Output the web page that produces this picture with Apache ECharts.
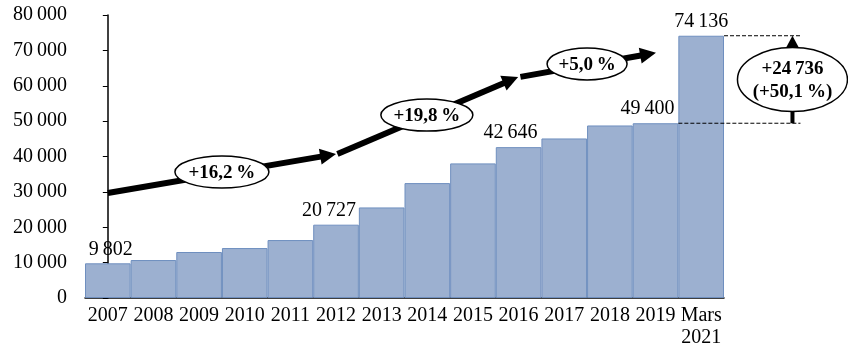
<!DOCTYPE html>
<html><head><meta charset="utf-8">
<script src="https://cdn.jsdelivr.net/npm/echarts@6/dist/echarts.min.js"></script>
<style>html,body{margin:0;padding:0;background:#fff}#c{width:848px;height:361px}</style>
</head><body><div id="c"></div>
<script>
const categories = ['2007','2008','2009','2010','2011','2012','2013','2014','2015','2016','2017','2018','2019','Mars\n2021'];
const values = [9802, 10730, 13000, 14120, 16380, 20727, 25600, 32480, 38050, 42646, 45100, 48770, 49400, 74136];
const labeledIdx = [0, 5, 9, 12, 13];
const yTicks = {min: 0, max: 80000, interval: 10000};
// trend arrows: [xStartIndex, yStart, xEndIndex, yEnd]
const trendArrows = [[0, 29700, 5, 40700], [5.03, 40700, 8.99, 62500], [9.04, 62500, 12.01, 69300]];
// trend labels: [xIndex, y, text]
const trendLabels = [[2.5, 35600, '+16,2\u2009%'], [6.99, 51700, '+19,8\u2009%'], [10.5, 66150, '+5,0\u2009%']];
// jump annotation: [xIndex, from, to]
const jumpNote = [[15, 49400, 74136]];
const jumpText = ['+24\u2009736', '(+50,1\u2009%)'];

// styling (not data)
const trendRx = [47, 46, 40];
const labelShift = {0: 3, 5: -7, 9: -8, 12: -8, 13: 0};
const FONT = 'Liberation Serif';
const FS = 20;
const fmt = v => String(v).replace(/\B(?=(\d{3})+(?!\d))/g, '\u2009');

const chart = echarts.init(document.getElementById('c'));
chart.setOption({
  animation: false,
  grid: {left: 85, right: 124, top: 15, bottom: 63},
  xAxis: [{
    type: 'category', data: categories,
    axisLine: {lineStyle: {color: '#000', width: 1.5}},
    axisTick: {show: false},
    axisLabel: {color: '#000', fontFamily: FONT, fontSize: FS, margin: 7, lineHeight: 22, interval: 0}
  }, {
    type: 'value', min: -0.5, max: 13.5, show: false
  }],
  yAxis: [{
    type: 'value', min: yTicks.min, max: yTicks.max, interval: yTicks.interval,
    splitLine: {show: false},
    axisLine: {show: true, lineStyle: {color: '#000', width: 1.5}},
    axisTick: {show: true, length: 5, lineStyle: {color: '#000'}},
    axisLabel: {color: '#000', fontFamily: FONT, fontSize: FS, margin: 18, formatter: fmt}
  }],
  series: [{
    type: 'bar', barCategoryGap: '0%',
    data: values.map((v, i) => ({
      value: v,
      label: {show: labeledIdx.includes(i), offset: [labelShift[i] || 0, 0]}
    })),
    itemStyle: {color: '#9cb0d0', borderColor: '#6f8fbf', borderWidth: 1},
    label: {position: 'top', distance: 4, color: '#000', fontFamily: FONT, fontSize: FS, formatter: p => fmt(p.value)}
  }, {
    type: 'custom', xAxisIndex: 1, yAxisIndex: 0, z: 5, clip: false,
    data: trendArrows,
    encode: {x: [0, 2], y: [1, 3]},
    renderItem: (params, api) => {
      const p1 = api.coord([api.value(0), api.value(1)]);
      const p2 = api.coord([api.value(2), api.value(3)]);
      const dx = p2[0] - p1[0], dy = p2[1] - p1[1];
      const len = Math.hypot(dx, dy), ux = dx / len, uy = dy / len;
      const hl = 16, hw = 8;
      const b = [p2[0] - ux * hl, p2[1] - uy * hl];
      return {type: 'group', children: [
        {type: 'line', shape: {x1: p1[0], y1: p1[1], x2: b[0] + ux * 2, y2: b[1] + uy * 2}, style: {stroke: '#000', lineWidth: 6}},
        {type: 'polygon', shape: {points: [p2, [b[0] - uy * hw, b[1] + ux * hw], [b[0] + uy * hw, b[1] - ux * hw]]}, style: {fill: '#000'}}
      ]};
    }
  }, {
    type: 'custom', xAxisIndex: 1, yAxisIndex: 0, z: 6, clip: false,
    data: trendLabels.map(d => [d[0], d[1]]),
    encode: {x: 0, y: 1},
    renderItem: (params, api) => {
      const p = api.coord([api.value(0), api.value(1)]);
      const rx = trendRx[params.dataIndex];
      return {type: 'group', children: [
        {type: 'ellipse', shape: {cx: p[0], cy: p[1], rx: rx, ry: 16}, style: {fill: '#fff', stroke: '#000', lineWidth: 1.5}},
        {type: 'text', z2: 10, style: {text: trendLabels[params.dataIndex][2], x: p[0], y: p[1] + 1, align: 'center', verticalAlign: 'middle', fontFamily: FONT, fontSize: 19, fontWeight: 'bold', fill: '#000'}}
      ]};
    }
  }, {
    type: 'custom', xAxisIndex: 1, yAxisIndex: 0, z: 6, clip: false,
    data: jumpNote,
    encode: {x: 0, y: [1, 2]},
    renderItem: (params, api) => {
      const x = api.value(0);
      const pLow = api.coord([x, api.value(1)]);
      const pHigh = api.coord([x, api.value(2)]);
      const lowStart = api.coord([12.5, api.value(1)]);
      const highStart = api.coord([13.5, api.value(2)]);
      const endX = pLow[0] + 8;
      const cy = (pLow[1] + pHigh[1]) / 2;
      const hl = 13, hw = 7;
      return {type: 'group', children: [
        {type: 'line', shape: {x1: lowStart[0], y1: pLow[1], x2: endX, y2: pLow[1]}, style: {stroke: '#000', lineWidth: 1, lineDash: [4, 2]}},
        {type: 'line', shape: {x1: highStart[0], y1: pHigh[1], x2: endX, y2: pHigh[1]}, style: {stroke: '#000', lineWidth: 1, lineDash: [4, 2]}},
        {type: 'line', shape: {x1: pLow[0], y1: pLow[1], x2: pHigh[0], y2: pHigh[1] + hl - 1}, style: {stroke: '#000', lineWidth: 4}},
        {type: 'polygon', shape: {points: [[pHigh[0], pHigh[1]], [pHigh[0] - hw, pHigh[1] + hl], [pHigh[0] + hw, pHigh[1] + hl]]}, style: {fill: '#000'}},
        {type: 'ellipse', shape: {cx: pLow[0], cy: cy, rx: 55, ry: 32}, style: {fill: '#fff', stroke: '#000', lineWidth: 1.5}},
        {type: 'text', style: {text: jumpText.join('\n'), x: pLow[0], y: cy + 1, align: 'center', verticalAlign: 'middle', lineHeight: 23, fontFamily: FONT, fontSize: 19, fontWeight: 'bold', fill: '#000'}}
      ]};
    }
  }]
});
</script>
</body></html>
